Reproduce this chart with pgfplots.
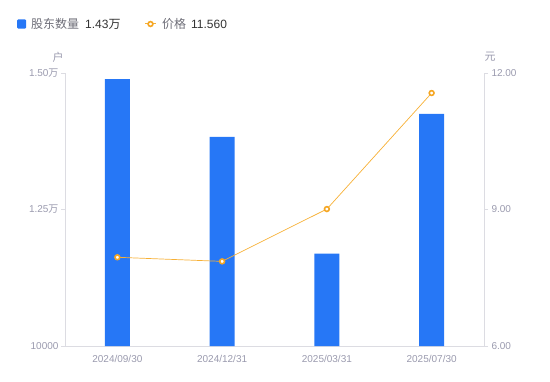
\documentclass[border=0pt]{standalone}
\usepackage{fontspec}
\setmainfont{Liberation Sans}
\newfontfamily\cjk{Noto Sans CJK SC}
\usepackage{pgfplots}
\pgfplotsset{compat=1.18}
\definecolor{barblue}{HTML}{2677F6}
\definecolor{lineorange}{HTML}{F7B035}
\definecolor{markorange}{HTML}{F5A623}
\definecolor{ticklab}{HTML}{9A9AAE}
\definecolor{axgray}{HTML}{DCDCE2}
\definecolor{legtext}{HTML}{6E6E78}
\definecolor{legval}{HTML}{333333}
\begin{document}
\begin{tikzpicture}[x=1bp,y=1bp]
\path[use as bounding box] (0,0) rectangle (550,381);
\begin{axis}[
  at={(65bp,35bp)}, anchor=south west,
  scale only axis, width=419bp, height=273bp,
  xmin=-0.5, xmax=3.5, ymin=10000, ymax=15000,
  axis y line*=left, axis x line*=bottom,
  axis line style={axgray, line width=0.8bp},
  xtick={0,1,2,3},
  xticklabels={2024/09/30,2024/12/31,2025/03/31,2025/07/30},
  x tick style={draw=none},
  ytick={10000,12500,15000},
  yticklabels={10000,1.25{\cjk 万},1.50{\cjk 万}},
  y tick style={axgray, line width=0.8bp},
  major tick length=4bp,
  tick align=outside,
  ticklabel style={font=\fontsize{10bp}{11bp}\selectfont, text=ticklab},
  yticklabel style={xshift=1bp},
  xticklabel style={yshift=-2bp},
  /pgf/number format/assume math mode=true,
  scaled y ticks=false,
  clip=false,
]
\addplot[ybar, bar width=25bp, fill=barblue, draw=none] coordinates {
  (0,14890) (1,13830) (2,11690) (3,14250)
};
\end{axis}
\begin{axis}[
  at={(65bp,35bp)}, anchor=south west,
  scale only axis, width=419bp, height=273bp,
  xmin=-0.5, xmax=3.5, ymin=6, ymax=12,
  axis y line*=right, axis x line=none,
  axis line style={axgray, line width=0.8bp},
  ytick={6,9,12},
  yticklabels={6.00,9.00,12.00},
  y tick style={axgray, line width=0.8bp},
  major tick length=4bp,
  tick align=outside,
  ticklabel style={font=\fontsize{10bp}{11bp}\selectfont, text=ticklab},
  /pgf/number format/assume math mode=true,
  clip=false,
]
\addplot[lineorange, line width=0.7bp, mark=*, mark size=2.4bp,
  mark options={draw=markorange, fill=white, line width=1.6bp}] coordinates {
  (0,7.95) (1,7.86) (2,9.01) (3,11.56)
};
\end{axis}
% unit labels
\node[text=ticklab, font=\cjk\fontsize{11bp}{12bp}\selectfont] at (58,324) {户};
\node[text=ticklab, font=\cjk\fontsize{11bp}{12bp}\selectfont] at (490,324) {元};
% legend
\fill[barblue, rounded corners=1bp] (17,352.5) rectangle (26,361.5);
\node[anchor=west, inner sep=0, text=legtext, font=\cjk\fontsize{12bp}{13bp}\selectfont] at (31,357) {股东数量};
\node[anchor=west, inner sep=0, text=legval, font=\fontsize{12bp}{13bp}\selectfont] at (85,357) {1.43{\cjk 万}};
\draw[lineorange, line width=1bp] (145,357) -- (156,357);
\draw[markorange, fill=white, line width=1.6bp] (150.5,357) circle (2.4);
\node[anchor=west, inner sep=0, text=legtext, font=\cjk\fontsize{12bp}{13bp}\selectfont] at (162,357) {价格};
\node[anchor=west, inner sep=0, text=legval, font=\fontsize{12bp}{13bp}\selectfont] at (191,357) {11.560};
\end{tikzpicture}
\end{document}
